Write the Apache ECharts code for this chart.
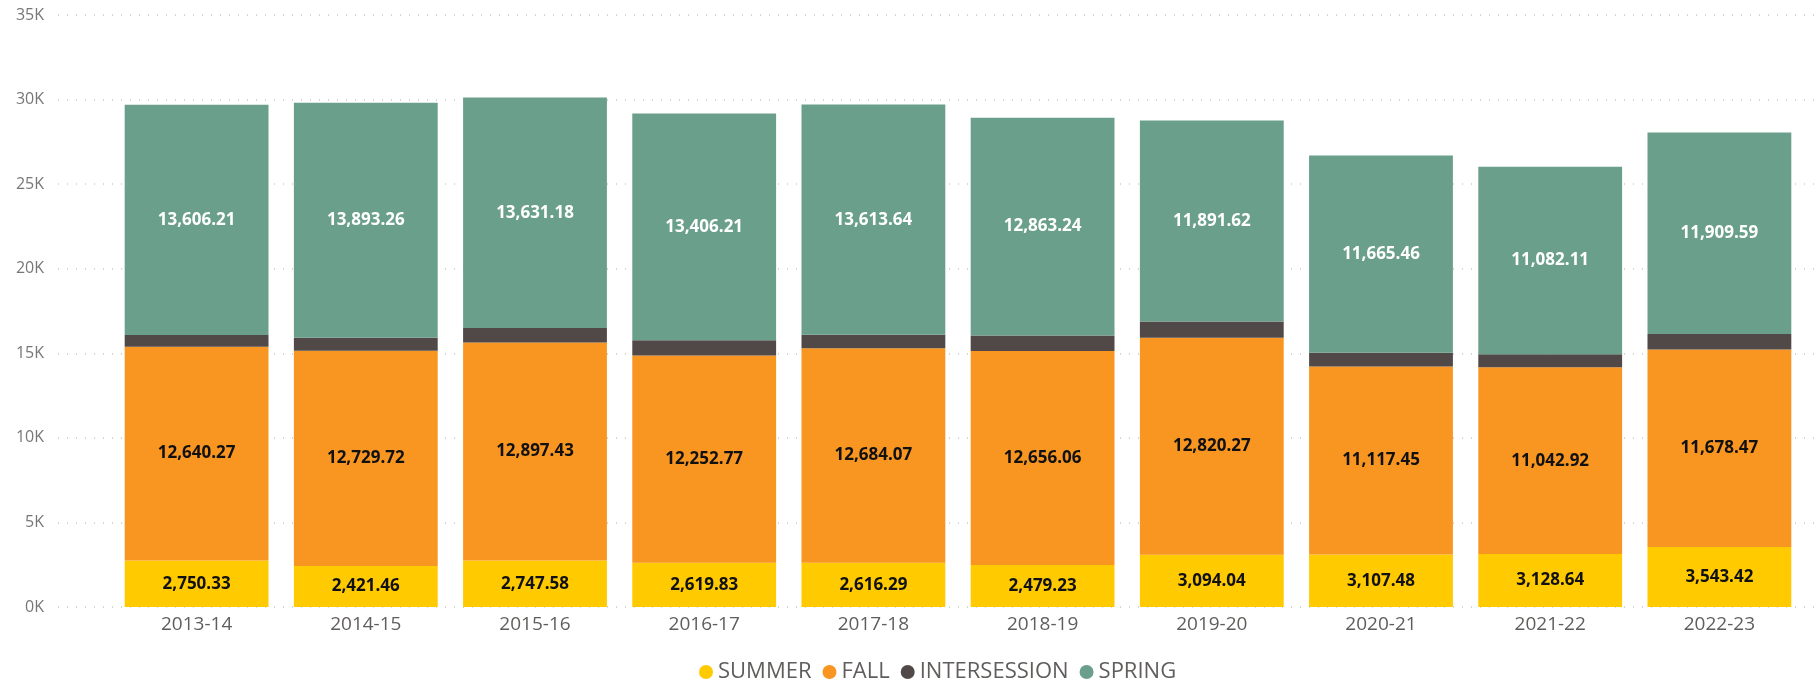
<!DOCTYPE html>
<html><head><meta charset="utf-8">
<script src="https://cdn.jsdelivr.net/npm/echarts@6/dist/echarts.min.js"></script>
<style>html,body{margin:0;padding:0;background:#fff;}#c{width:1814px;height:681px;}</style>
</head><body><div id="c"></div>
<script>
const categories = ['2013-14','2014-15','2015-16','2016-17','2017-18','2018-19','2019-20','2020-21','2021-22','2022-23'];
const summer = [2750.33,2421.46,2747.58,2619.83,2616.29,2479.23,3094.04,3107.48,3128.64,3543.42];
const fall = [12640.27,12729.72,12897.43,12252.77,12684.07,12656.06,12820.27,11117.45,11042.92,11678.47];
const intersession = [690,770,845,900,790,920,960,805,775,920];
const spring = [13606.21,13893.26,13631.18,13406.21,13613.64,12863.24,11891.62,11665.46,11082.11,11909.59];
const yTicks = [0,5000,10000,15000,20000,25000,30000,35000];

const font = '"Open Sans", "Noto Sans", sans-serif';
const fmt = v => v.toLocaleString('en-US',{minimumFractionDigits:2,maximumFractionDigits:2});
const chart = echarts.init(document.getElementById('c'));
function mk(name, data, color, labelColor){
  return {
    name, type:'bar', stack:'t', data, xAxisIndex:1, yAxisIndex:1,
    barCategoryGap:'15%',
    itemStyle:{color},
    label: labelColor ? {show:true, position:'inside', color:labelColor, fontFamily:font, fontWeight:'bold', fontSize:17,
      formatter:p=>fmt(p.value)} : {show:false},
    emphasis:{disabled:true}
  };
}
chart.setOption({
  animation:false,
  legend:{
    data:['SUMMER','FALL','INTERSESSION','SPRING'],
    top:656, left:694, icon:'circle', itemWidth:14, itemHeight:14, itemGap:11,
    textStyle:{color:'#605E5C', fontFamily:font, fontSize:22}
  },
  grid:[
    {left:58, right:0, top:15, bottom:74},
    {left:112, right:10, top:15, bottom:74}
  ],
  xAxis:[
    {gridIndex:0, type:'value', show:false, min:0, max:1},
    {gridIndex:1, type:'category', data:categories,
     axisLine:{show:false}, axisTick:{show:false},
     axisLabel:{color:'#605E5C', fontFamily:font, fontSize:19, margin:8}}
  ],
  yAxis:[
    {gridIndex:0, type:'value', min:yTicks[0], max:yTicks[yTicks.length-1], interval:5000,
     axisLine:{show:false}, axisTick:{show:false},
     axisLabel:{color:'#777', fontFamily:font, fontSize:16, margin:14, formatter:v=>(v/1000)+'K'},
     splitLine:{lineStyle:{color:'#c8c8c8', type:[1,8], width:1.5}}},
    {gridIndex:1, type:'value', min:yTicks[0], max:yTicks[yTicks.length-1], interval:5000, show:false,
     splitLine:{show:false}}
  ],
  series:[
    mk('SUMMER', summer, '#FFCA00', '#111'),
    mk('FALL', fall, '#F89621', '#111'),
    mk('INTERSESSION', intersession, '#514948', null),
    mk('SPRING', spring, '#6A9F8C', '#fff')
  ]
});
</script></body></html>
